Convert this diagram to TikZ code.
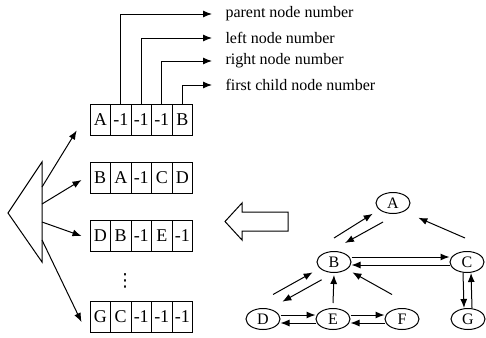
\documentclass[tikz,border=0pt]{standalone}
\usepackage{fontspec}
\setmainfont{Liberation Serif}
\newfontfamily\symfont{DejaVu Sans}
\usetikzlibrary{arrows.meta, shapes.geometric}

\begin{document}
\begin{tikzpicture}[x=0.5pt, y=-0.5pt, line width=0.5pt,
    cell/.style={draw, minimum width=10.25pt, minimum height=15.5pt, inner sep=0pt, font=\fontsize{9}{10}\selectfont},
    vtx/.style={draw, ellipse, minimum width=17pt, minimum height=10.5pt, inner sep=0pt, font=\fontsize{8}{9}\selectfont},
    lab/.style={anchor=west, inner sep=1pt, font=\fontsize{8}{9}\selectfont},
    link/.style={-{Latex[length=4.5pt, width=3.5pt]}}]
    \useasboundingbox (0,0) rectangle (486,337);

    % node records
    \foreach \y/\name/\list in {120/A/{A,-1,-1,-1,B}, 178/B/{B,A,-1,C,D}, 236/D/{D,B,-1,E,-1}, 317/G/{G,C,-1,-1,-1}} {
        \foreach \v [count=\i] in \list
            \node[cell] (r\name\i) at ({79.75+20.5*\i},\y) {\v};
    }
    \node[font=\symfont\fontsize{9}{10}\selectfont] (dots) at (125,281) {⋮};

    % field labels
    \node[lab] (lpar) at (223,14) {parent node number};
    \node[lab] (llft) at (223,38) {left node number};
    \node[lab] (lrgt) at (223,61) {right node number};
    \node[lab] (lchd) at (223,85) {first child node number};
    \draw[link] (rA2.north) |- ([xshift=-5.5pt]lpar.west);
    \draw[link] (rA3.north) |- ([xshift=-5.5pt]llft.west);
    \draw[link] (rA4.north) |- ([xshift=-5.5pt]lrgt.west);
    \draw[link] (rA5.north) |- ([xshift=-5.5pt]lchd.west);

    % array
    \draw (42,162) -- (8,213) -- (42,262) -- cycle;
    \coordinate (t1) at (42,187);
    \coordinate (t2) at (42,204);
    \coordinate (t3) at (42,222);
    \coordinate (t4) at (42,240);
    \draw[link] (t1) -- ([xshift=-6.4pt, yshift=2.75pt]rA1.south west);
    \draw[link] (t2) -- ([xshift=-4pt, yshift=-1pt]rB1.west);
    \draw[link] (t3) -- ([xshift=-4pt]rD1.west);
    \draw[link] (t4) -- ([xshift=-4pt, yshift=-2.5pt]rG1.west);

    % hollow arrow
    \draw (288,212) -- (242,212) -- (242,203) -- (225,221.5) -- (242,240) -- (242,231) -- (288,231) -- cycle;

    % tree
    \node[vtx] (vA) at (393,203) {A};
    \node[vtx] (vB) at (334,262) {B};
    \node[vtx] (vC) at (467,262) {C};
    \node[vtx] (vD) at (263,319) {D};
    \node[vtx] (vE) at (333,319) {E};
    \node[vtx] (vF) at (402,319) {F};
    \node[vtx] (vG) at (468,319) {G};

    \draw[link] ([yshift=6.5pt]vB.north) -- ([xshift=-4pt, yshift=-1.5pt]vA.south west);
    \draw[link] ([xshift=-5pt, yshift=-4pt]vA.south) -- ([xshift=5.5pt, yshift=4pt]vB.north);
    \draw[link] ([xshift=-1pt, yshift=6.5pt]vC.north) -- ([xshift=6.5pt, yshift=-3.5pt]vA.south east);
    \draw[link] ([yshift=2.5pt]vB.east) -- ([yshift=2.5pt]vC.west);
    \draw[link] ([yshift=-1.5pt]vC.west) -- ([yshift=-1.5pt]vB.east);
    \draw[link] ([xshift=-2pt]vC.south) -- ([xshift=-2pt]vG.north);
    \draw[link] ([xshift=2pt]vG.north) -- ([xshift=2pt]vC.south);
    \draw[link] ([xshift=5pt, yshift=6.75pt]vD.north) -- ([xshift=-4.5pt, yshift=-1.3pt]vB.south west);
    \draw[link] ([yshift=-5pt]vB.south west) -- ([xshift=3.5pt, yshift=4.8pt]vD.north east);
    \draw[link] ([yshift=2.5pt]vE.north) -- ([yshift=-1pt]vB.south);
    \draw[link] ([xshift=-5pt, yshift=6.75pt]vF.north) -- ([xshift=3pt, yshift=-1.3pt]vB.south east);
    \draw[link] ([yshift=2pt]vD.east) -- ([yshift=2pt]vE.west);
    \draw[link] ([yshift=-2pt]vE.west) -- ([yshift=-2pt]vD.east);
    \draw[link] ([yshift=2pt]vE.east) -- ([yshift=2pt]vF.west);
    \draw[link] ([yshift=-2pt]vF.west) -- ([yshift=-2pt]vE.east);
\end{tikzpicture}
\end{document}
